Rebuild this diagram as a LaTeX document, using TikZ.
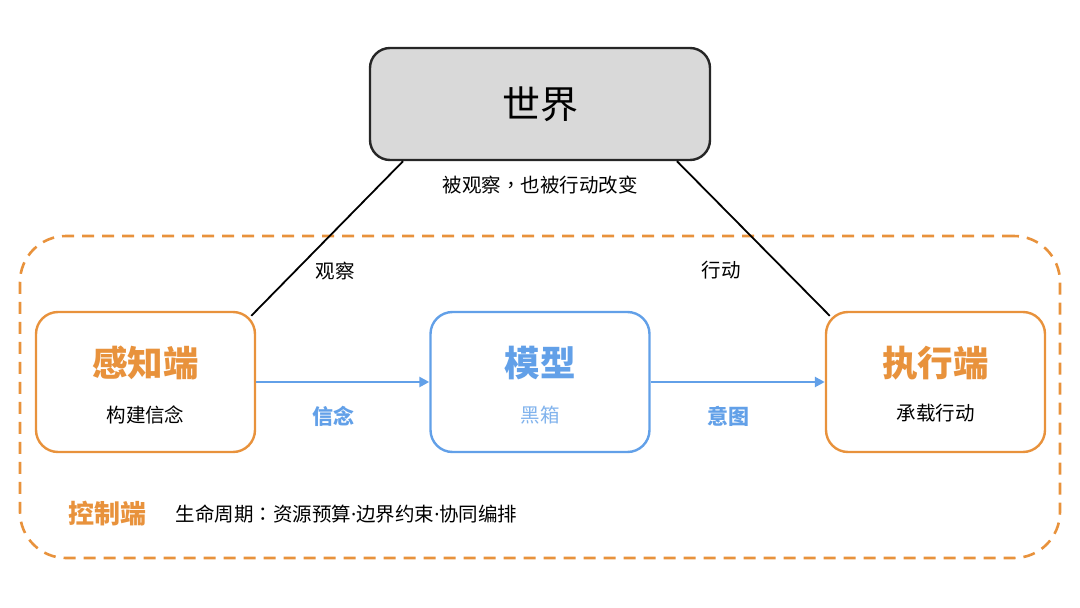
\documentclass[tikz,border=0pt]{standalone}
\usepackage{fontspec}
\setmainfont{Noto Sans CJK SC}
\newfontfamily\cjktc{Noto Sans CJK TC}
\newfontfamily\latinfont{Noto Sans}
\usepackage{xcolor}
\usepackage{tikz}
\usetikzlibrary{arrows.meta,calc}

\definecolor{ctrlorange}{RGB}{232,146,60}
\definecolor{modelblue}{RGB}{98,160,232}
\definecolor{worldgray}{RGB}{217,217,217}

\begin{document}
\begin{tikzpicture}[x=1pt,y=-1pt,
    worldbox/.style={draw=black!85, line width=2.4pt, fill=worldgray, rounded corners=20pt,
                     minimum width=340pt, minimum height=112pt, inner sep=0pt},
    endbox/.style={draw=ctrlorange, line width=2.4pt, fill=white, rounded corners=22pt,
                   minimum width=219pt, minimum height=140pt, inner sep=0pt},
    modelbox/.style={endbox, draw=modelblue},
    zone/.style={draw=ctrlorange, line width=2.6pt, dash pattern=on 12pt off 8pt,
                 rounded corners=46pt, minimum width=1040pt, minimum height=322pt, inner sep=0pt},
    bigtitle/.style={font=\fontsize{35.5}{37}\selectfont\bfseries},
    small/.style={font=\fontsize{19.5}{22}\selectfont},
    smallbold/.style={font=\fontsize{21}{23}\selectfont\bfseries, text=modelblue},
    link/.style={draw=black, line width=1.8pt},
    flow/.style={draw=modelblue, line width=2.6pt, -{Triangle[length=10pt,width=10pt]}}]
\useasboundingbox (0,0) rectangle (1080,608);
        \node [zone]       (ctrl)     at (540,397)   {};                             % control frame
        \node [worldbox]   (world)    at (540,104)   {\fontsize{38}{40}\selectfont 世界};
        \node [small]      (worldlbl) at (540,185)   {被观察{\cjktc ，}也被行动改变};  %
        \node [endbox]     (sense)    at (145.5,382) {};                             % sensing end
        \node [bigtitle, text=ctrlorange] (senseT) at (145.5,363) {感知端};        %
        \node [small]      (senseS)   at (145.5,415) {构建信念};                      %
        \node [modelbox]   (model)    at (540,382)   {};                             % model
        \node [bigtitle, text=modelblue] (modelT) at (540,363) {模型};             %
        \node [small, text=modelblue!80] (modelS) at (540,415) {黑箱};             %
        \node [endbox]     (exec)     at (935.5,382) {};                             % acting end
        \node [bigtitle, text=ctrlorange] (execT) at (935.5,363) {执行端};         %
        \node [small]      (execS)    at (935.5,413) {承载行动};                      %
        \draw [flow]       (sense) -- (model);                                       % belief
        \node [smallbold]  (beliefL)  at (333,416)   {信念};                         %
        \draw [flow]       (model) -- (exec);                                        % intent
        \node [smallbold]  (intentL)  at (728,416)   {意图};                         %
        \draw [link, shorten >=-7pt] ($(world.south west)!0.1!(world.south east)$) -- (sense.north east);
        \node [small]      (observeL) at (335,271)   {观察};                         %
        \draw [link, shorten >=-7pt] ($(world.south west)!0.9!(world.south east)$) -- (exec.north west);
        \node [small]      (actL)     at (721,270)   {行动};                         %
        \node [font=\fontsize{26}{28}\selectfont\bfseries, text=ctrlorange] (ctrlT) at (107,514) {控制端};
        \node [small, anchor=west] (ctrlS) at (172,514)
              {生命周期{\cjktc ：}资源预算{\latinfont ·}边界约束{\latinfont ·}协同编排};
\end{tikzpicture}
\end{document}
